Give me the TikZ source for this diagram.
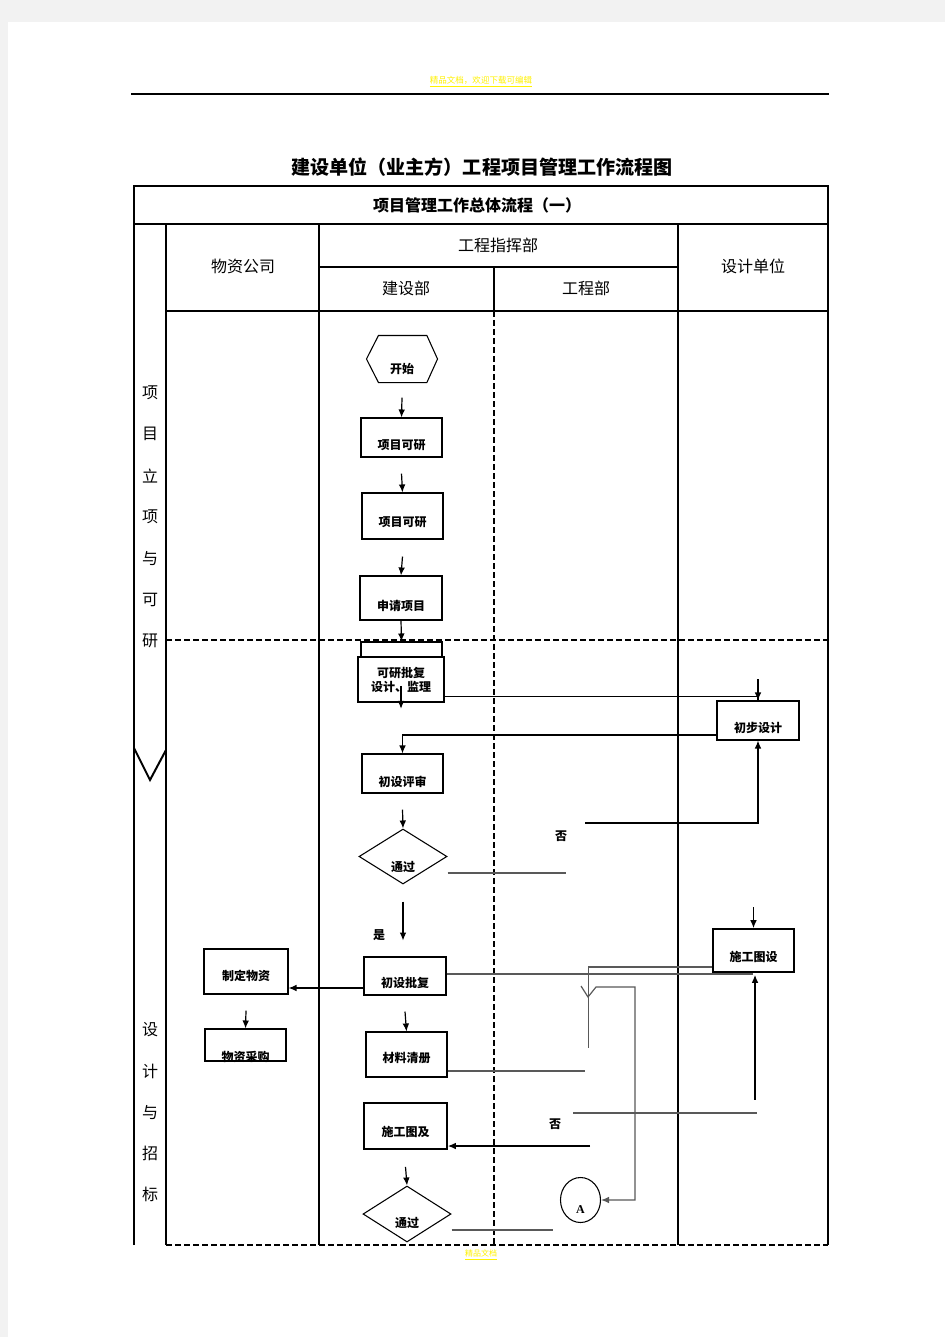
\documentclass[tikz,border=0pt]{standalone}
\usepackage{fontspec}
\setmainfont{Noto Sans CJK SC}
\newfontfamily\latin{Liberation Serif}
\usetikzlibrary{shapes.geometric,arrows.meta}
\newcommand{\txtbas}[2][9pt]{\raisebox{-#1}[0pt][0pt]{#2}}

\begin{document}
\begin{tikzpicture}[x=0.75pt,y=-0.75pt,
    cadre/.style={line width=1.5pt},
    pointille/.style={line width=1.8pt,dash pattern=on 4.5pt off 2.25pt},
    boite/.style={draw,line width=0.8pt,minimum width=60.75pt,minimum height=29.25pt,
        inner sep=0pt,font=\bfseries\fontsize{9}{10.5}\selectfont},
    losange/.style={boite,diamond,minimum width=66pt,minimum height=41.25pt},
    petit/.style={font=\bfseries\fontsize{9}{10.5}\selectfont},
    entete/.style={font=\fontsize{12}{14}\selectfont},
    fleche/.style={->,>={Latex[length=6pt,width=5pt]},line width=0.9pt},
    trait/.style={line width=0.8pt},
    gris/.style={draw=black!65}]
    % Fond de page
    \fill[black!5] (0,0) rectangle (945,1337);
    \fill[white] (8,22) rectangle (945,1337);
    \useasboundingbox (0,0) rectangle (945,1337);

    % En-tete
    \node[font=\fontsize{6.4}{7}\selectfont,text=yellow] (filigrane) at (481,82) {\underline{精品文档，欢迎下载可编辑}};
    \draw[line width=1pt] (131,94) -- (829,94);
    \node[font=\bfseries\fontsize{14.3}{16}\selectfont] (titre) at (482,167) {建设单位（业主方）工程项目管理工作流程图};
    \node[font=\fontsize{6}{7}\selectfont,text=yellow] (pied) at (481,1255) {\underline{精品文档}};

    % Horizontales
    \draw[cadre] (134,1245) -- (134,186) -- (828,186) -- (828,1245);
    \draw[cadre] (134,224) -- (828,224);
    \draw[cadre] (319,267) -- (678,267);
    \draw[cadre] (166,311) -- (828,311);
    \draw[pointille] (166,640) -- (828,640);
    \draw[pointille] (166,1245) -- (828,1245);

    % Verticales
    \draw[cadre] (166,224) -- (166,1245);
    \draw[cadre] (319,224) -- (319,1245);
    \draw[cadre] (678,224) -- (678,1245);
    \draw[cadre] (494,267) -- (494,311);
    \draw[pointille] (494,311) -- (494,1245);
    \draw[cadre] (134,748) -- (150,780) -- (166,750);

    % Titres des colonnes
    \node[font=\bfseries\fontsize{12}{14}\selectfont] (soustitre) at (477,205) {项目管理工作总体流程（一）};
    \node[entete] (wuzi) at (243,266) {物资公司};
    \node[entete] (zhihui) at (498,245) {工程指挥部};
    \node[entete] (jianshe) at (406,288) {建设部};
    \node[entete] (gongcheng) at (586,288) {工程部};
    \node[entete] (sheji) at (753,266) {设计单位};

    % Premiere colonne
    \foreach \c [count=\i] in {项,目,立,项,与,可,研}
        \node[entete] (va\i) at (150,351.7+41.3*\i) {\c};
    \foreach \c [count=\i] in {设,计,与,招,标}
        \node[entete] (vb\i) at (150,988.8+41.2*\i) {\c};

    % Etapes
    \node[boite,draw=none,minimum width=52.5pt,minimum height=34.5pt] (debut) at (402,359) {\txtbas[10.9pt]{开始}};
    \draw[line width=0.8pt] (debut.west) -- ([xshift=9pt]debut.north west) -- ([xshift=-8pt]debut.north east)
        -- (debut.east) -- ([xshift=-8pt]debut.south east) -- ([xshift=9pt]debut.south west) -- cycle;
    \node[boite] (pc1) at (401.5,437.5) {\txtbas{项目可研}};
    \node[boite,minimum height=34.5pt] (pc2) at (402.5,516) {\txtbas[7.9pt]{项目可研}};
    \node[boite,minimum width=61.5pt,minimum height=33pt] (sq) at (401,598) {\txtbas[9.4pt]{申请项目}};
    \node[boite,minimum height=11.25pt] (kp0) at (401.5,649.5) {};
    \node[boite,line width=1.3pt,minimum width=64.5pt,minimum height=33.75pt,align=center] (kp) at (401,679.5) {可研批复\\设计、监理};
    \node[boite,minimum width=61.5pt] (cb) at (758,720.5) {\txtbas{初步设计}};
    \node[boite] (cs) at (402.5,773.5) {\txtbas[9.8pt]{初设评审}};
    \node[losange] (tg1) at (403,856.5) {\txtbas[11.3pt]{通过}};
    \node[petit] (non1) at (561,836) {否};
    \node[petit] (oui) at (379,935) {是};
    \node[boite,minimum width=61.5pt,minimum height=28.5pt] (cf) at (405,976) {\txtbas[8.65pt]{初设批复}};
    \node[boite,minimum width=63pt,minimum height=33.75pt] (zd) at (246,971.5) {\txtbas[6.8pt]{制定物资}};
    \node[boite,minimum height=24pt] (wc) at (245.5,1045) {\txtbas[12.4pt]{物资采购}};
    \node[boite,minimum height=33.75pt] (cl) at (406.5,1054.5) {\txtbas[6pt]{材料清册}};
    \node[boite,line width=1.3pt,minimum height=32.25pt] (st) at (753.5,950.5) {\txtbas[8.3pt]{施工图设}};
    \node[boite,line width=1.3pt,minimum width=62.25pt,minimum height=34.5pt] (sj) at (405.5,1126) {\txtbas[7.9pt]{施工图及}};
    \node[losange,minimum height=42pt] (tg2) at (407,1214) {\txtbas[10.15pt]{通过}};
    \node[petit] (non2) at (555,1124) {否};
    \node[draw,ellipse,line width=0.8pt,minimum width=30pt,minimum height=33.75pt,inner sep=0pt,
        font=\latin\bfseries\fontsize{9}{10}\selectfont] (ca) at (580.5,1200) {\txtbas[9.75pt]{A}};

    % Fleches
    \draw[fleche] (debut.south) ++(0,15) -- (pc1.north);
    \draw[fleche] (pc1.south) ++(0,16) -- (pc2.north);
    \draw[fleche] (pc2.south) ++(0,17) -- (sq.north);
    \draw[fleche] (sq.south) -- (kp0.north);
    \draw[fleche] (kp.south) ++(0,-17) -- ++(0,23);
    \draw[trait] (kp.south east) ++(0,-6) -| (cb.north);
    \draw[fleche] (cb.north) ++(0,-21) -- (cb.north);
    \draw[fleche] (cb.west) ++(0,14.5) -| (cs.north);
    \draw[fleche] (cs.south) ++(0,16) -- (tg1.north);
    \draw[trait,gris] (tg1.east) ++(0,16.5) -- ++(118,0);
    \coordinate (retour1) at (585,823);
    \draw[fleche] (retour1) -| (cb.south);
    \draw[fleche] (tg1.south) ++(0,17) -- ++(0,39);
    \path (cf.west) ++(0,12) coordinate (c1);
    \draw[fleche] (c1) -- (c1 -| zd.east);
    \draw[fleche] (zd.south) ++(0,16) -- (wc.north);
    \draw[fleche] (cf.south) ++(0,16) -- (cl.north);
    \draw[trait,gris] (cf.east) ++(0,-2) -- ++(306,0);
    \draw[fleche] (st.north) ++(0,-21) -- (st.north);
    \draw[fleche] (st.south) ++(1.5,127) -- ++(0,-125);
    \draw[trait,gris] (st.west) ++(0,16.5) -| ++(-123.5,81);
    \coordinate (coche) at (581,986);
    \draw[fleche,gris] (coche) -- (588,997) -- (596,987) -- (635,987) |- (ca.east);
    \draw[trait,gris] (cl.east) ++(0,16.5) -- ++(137,0);
    \coordinate (retour2) at (573,1113);
    \draw[trait,gris] (retour2) -- ++(184,0);
    \coordinate (retour3) at (590,1146);
    \draw[fleche] (retour3) -- (retour3 -| sj.east);
    \draw[fleche] (sj.south) ++(0,17) -- (tg2.north);
    \draw[trait,gris] (tg2.east) ++(0,16) -- ++(101,0);
\end{tikzpicture}
\end{document}
